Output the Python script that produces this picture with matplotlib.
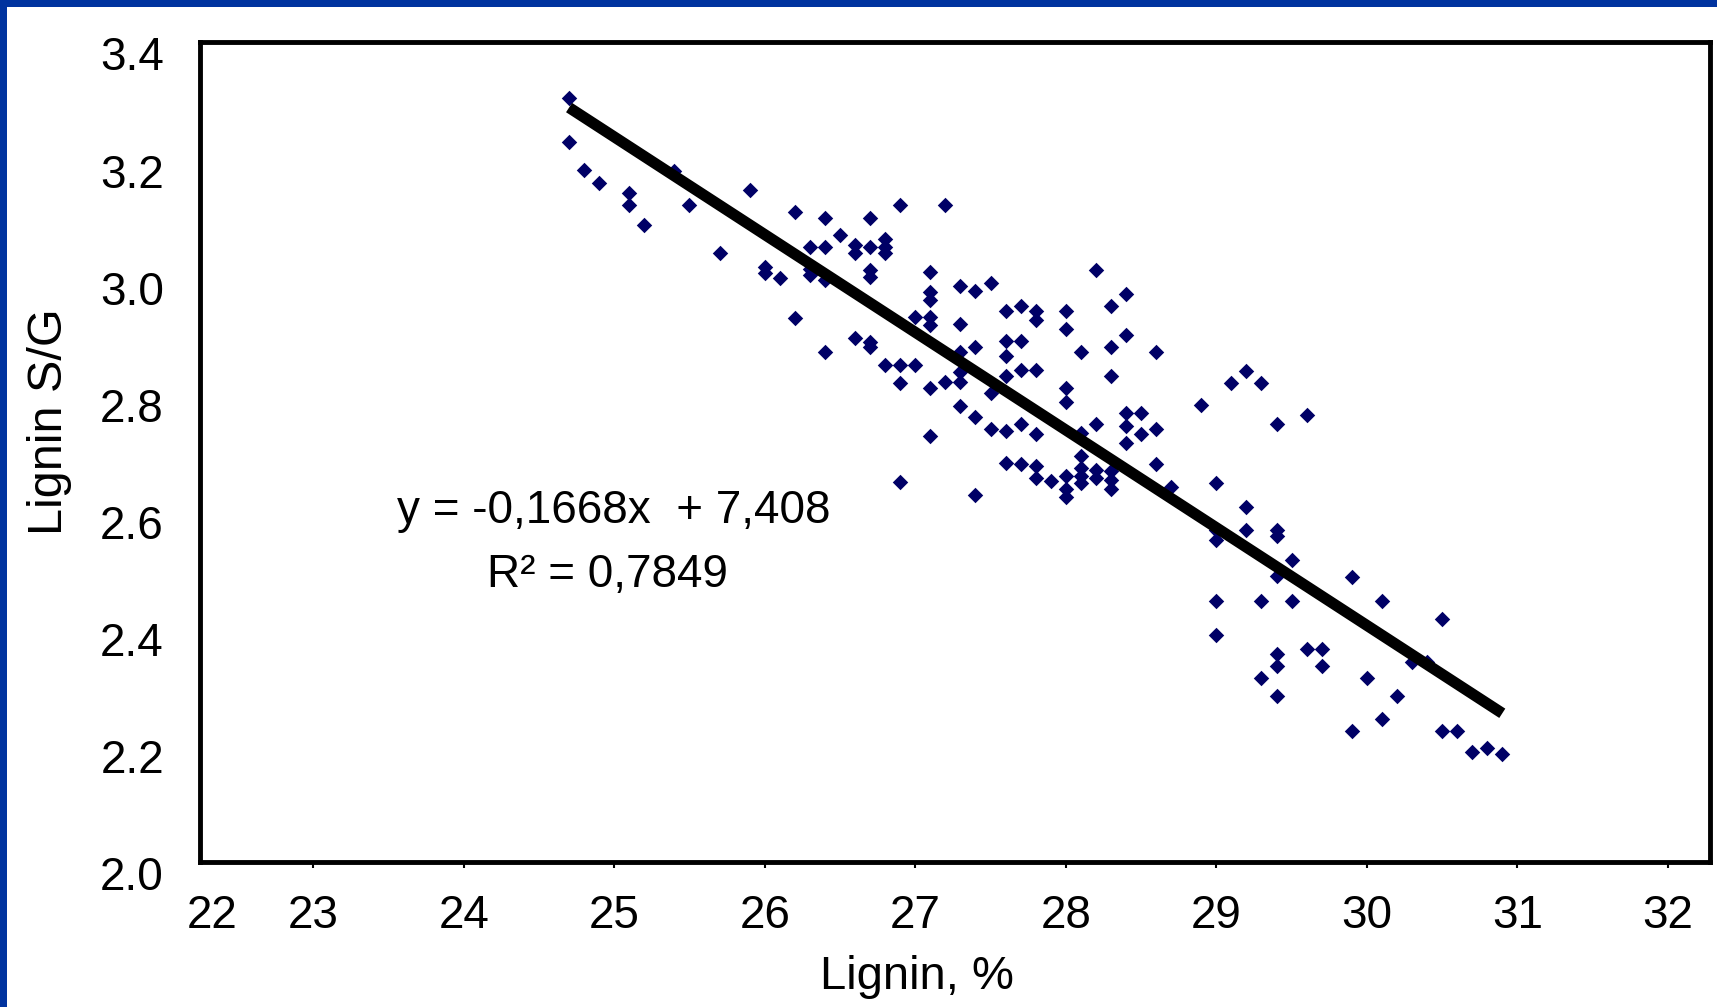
import numpy as np
import matplotlib.pyplot as plt
from matplotlib.patches import Rectangle
from matplotlib.transforms import ScaledTranslation

plt.rcParams['font.family'] = ['Liberation Sans', 'DejaVu Sans']

# lignin content (%) and S/G ratio
lignin = [24.7, 24.7, 24.8, 24.9, 25.1, 25.1, 25.2, 25.4, 25.5, 25.7, 25.9,
          26.0, 26.0, 26.1, 26.2, 26.2, 26.3, 26.3, 26.3, 26.4, 26.4, 26.4, 26.4,
          26.5, 26.6, 26.6, 26.6, 26.7, 26.7, 26.7, 26.7, 26.7, 26.7,
          26.8, 26.8, 26.8, 26.8, 26.9, 26.9, 26.9, 26.9, 27.0, 27.0,
          27.1, 27.1, 27.1, 27.1, 27.1, 27.1, 27.1, 27.2, 27.2,
          27.3, 27.3, 27.3, 27.3, 27.3, 27.3, 27.4, 27.4, 27.4, 27.4,
          27.5, 27.5, 27.5, 27.6, 27.6, 27.6, 27.6, 27.6, 27.6,
          27.7, 27.7, 27.7, 27.7, 27.7, 27.8, 27.8, 27.8, 27.8, 27.8, 27.8, 27.9,
          28.0, 28.0, 28.0, 28.0, 28.0, 28.0, 28.0, 28.1, 28.1, 28.1, 28.1, 28.1, 28.1,
          28.2, 28.2, 28.2, 28.2, 28.3, 28.3, 28.3, 28.3, 28.3, 28.3,
          28.4, 28.4, 28.4, 28.4, 28.4, 28.5, 28.5, 28.6, 28.6, 28.6, 28.7, 28.9,
          29.0, 29.0, 29.0, 29.0, 29.0, 29.1, 29.2, 29.2, 29.2, 29.3, 29.3, 29.3,
          29.4, 29.4, 29.4, 29.4, 29.4, 29.4, 29.4, 29.5, 29.5, 29.6, 29.6, 29.7, 29.7,
          29.9, 29.9, 30.0, 30.1, 30.1, 30.2, 30.3, 30.4, 30.5, 30.5, 30.6,
          30.7, 30.8, 30.9]
sg = [3.305, 3.23, 3.182, 3.159, 3.142, 3.121, 3.088, 3.179, 3.121, 3.04, 3.147,
      3.016, 3.005, 2.997, 3.11, 2.928, 3.05, 3.012, 3.003, 3.05, 3.10, 2.993, 2.87,
      3.07, 3.053, 3.039, 2.894, 3.10, 3.05, 3.01, 2.999, 2.888, 2.879,
      3.063, 3.05, 3.039, 2.848, 3.121, 2.848, 2.817, 2.648, 2.93, 2.848,
      3.008, 2.973, 2.96, 2.93, 2.916, 2.81, 2.727, 3.121, 2.82,
      2.984, 2.918, 2.87, 2.837, 2.82, 2.779, 2.975, 2.879, 2.759, 2.627,
      2.988, 2.80, 2.739, 2.94, 2.89, 2.864, 2.83, 2.736, 2.681,
      2.95, 2.89, 2.84, 2.747, 2.679, 2.94, 2.925, 2.84, 2.73, 2.676, 2.656, 2.65,
      2.94, 2.91, 2.81, 2.785, 2.659, 2.636, 2.624, 2.87, 2.733, 2.693, 2.673, 2.659, 2.647,
      3.01, 2.747, 2.67, 2.656, 2.95, 2.88, 2.83, 2.667, 2.653, 2.636,
      2.97, 2.90, 2.767, 2.744, 2.716, 2.767, 2.73, 2.87, 2.739, 2.679, 2.64, 2.78,
      2.647, 2.567, 2.55, 2.445, 2.387, 2.817, 2.838, 2.606, 2.567, 2.817, 2.445, 2.315,
      2.747, 2.567, 2.557, 2.488, 2.355, 2.335, 2.284, 2.516, 2.445, 2.764, 2.364, 2.364, 2.334,
      2.486, 2.224, 2.314, 2.445, 2.245, 2.284, 2.341, 2.341, 2.415, 2.224, 2.224,
      2.187, 2.194, 2.184]

# trend line as printed on the chart
slope = -0.1668
intercept = 7.408
r2 = 0.7849

xtick_pos = [22.33, 23, 24, 25, 26, 27, 28, 29, 30, 31, 32]
xtick_labels = ['22', '23', '24', '25', '26', '27', '28', '29', '30', '31', '32']
ytick_pos = [2.0, 2.2, 2.4, 2.6, 2.8, 3.0, 3.2, 3.4]

W, H = 1717, 1007
fig = plt.figure(figsize=(W / 100, H / 100), dpi=100)
fig.patch.set_facecolor('#00339f')
fig.add_artist(Rectangle((7 / W, 0), 1, 1 - 7 / H, transform=fig.transFigure,
                         facecolor='white', edgecolor='none', zorder=-1))

ax = fig.add_axes([200 / W, 1 - 862 / H, 1510 / W, 820 / H])
ax.scatter(lignin, sg, marker='D', s=62, color='#000066', zorder=2, linewidths=0)

xs = np.array([min(lignin), max(lignin)])
ax.plot(xs, slope * xs + intercept, color='black', linewidth=8,
        solid_capstyle='butt', zorder=3)

ax.set_xlim(22.248, 32.28)
ax.set_ylim(2.0, 3.4)

ax.set_xticks(xtick_pos)
ax.set_xticklabels(xtick_labels)
ax.set_yticks(ytick_pos)
ax.set_yticklabels([f'{v:.1f}' for v in ytick_pos])
ax.tick_params(axis='x', direction='out', length=4, width=1.5, pad=19, labelsize=33)
ax.tick_params(axis='y', length=0, pad=26, labelsize=33)
ax.xaxis.get_major_ticks()[0].tick1line.set_visible(False)

# y labels sit a bit below their tick positions in the original
for lab in ax.get_yticklabels():
    lab.set_transform(lab.get_transform() + ScaledTranslation(0, -11.5 / 100, fig.dpi_scale_trans))

for sp in ax.spines.values():
    sp.set_linewidth(3.5)
    sp.set_color('black')

ax.set_xlabel('Lignin, %', fontsize=34)
ax.xaxis.set_label_coords(0.475, -0.114)
ax.set_ylabel('Lignin S/G', fontsize=35)
ax.yaxis.set_label_coords(-0.085, 0.537)

ax.text(0.274, 0.428, f'y = {slope:.4f}x  + {intercept:.3f}'.replace('.', ','),
        transform=ax.transAxes, ha='center', va='center', fontsize=33)
ax.text(0.270, 0.35, f'R² = {r2:.4f}'.replace('.', ','),
        transform=ax.transAxes, ha='center', va='center', fontsize=33)

plt.savefig('out.png', dpi=100)
plt.close()
